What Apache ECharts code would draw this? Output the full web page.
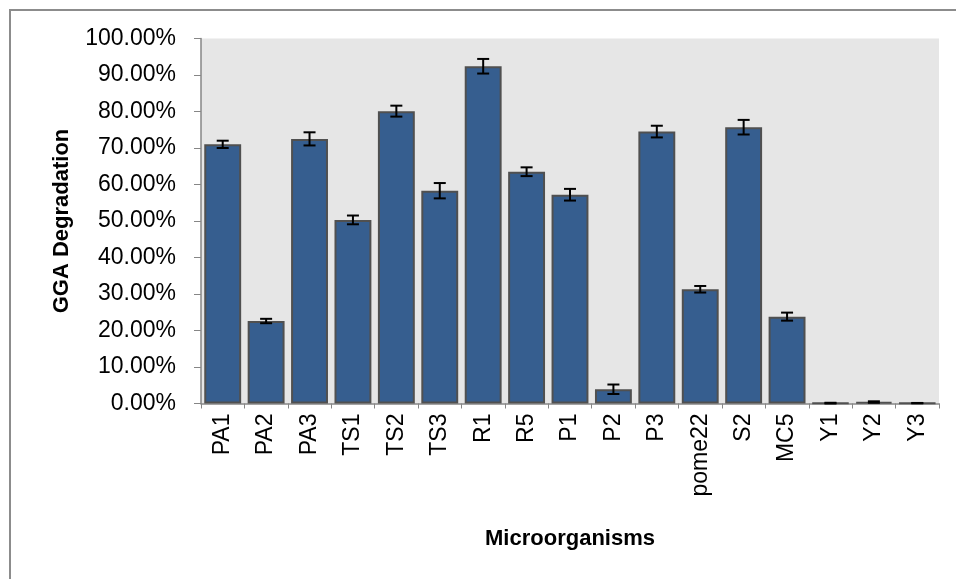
<!DOCTYPE html>
<html>
<head>
<meta charset="utf-8">
<script src="https://cdn.jsdelivr.net/npm/echarts@6/dist/echarts.min.js"></script>
<style>html,body{margin:0;padding:0;background:#fff}#c{width:956px;height:579px}</style>
</head>
<body>
<div id="c"></div>
<script>
var categories = ['PA1','PA2','PA3','TS1','TS2','TS3','R1','R5','P1','P2','P3','pome22','S2','MC5','Y1','Y2','Y3'];
var degradation = [71.0, 22.6, 72.5, 50.3, 80.1, 58.3, 92.4, 63.5, 57.2, 3.9, 74.5, 31.3, 75.7, 23.8, 0.1, 0.4, 0.1];
var errors = [1.0, 0.6, 1.8, 1.2, 1.5, 2.1, 2.0, 1.2, 1.6, 1.3, 1.6, 0.9, 2.0, 1.1, 0.1, 0.2, 0.05];
var yTicks = [0, 10, 20, 30, 40, 50, 60, 70, 80, 90, 100];

var errData = categories.map(function (c, i) {
  return [i, degradation[i] - errors[i], degradation[i] + errors[i]];
});

var chart = echarts.init(document.getElementById('c'), null, {renderer: 'canvas'});
var font = 'Liberation Sans';
chart.setOption({
  animation: false,
  graphic: [{
    type: 'rect', left: 9, top: 9, z: -10,
    shape: {x: 0, y: 0, width: 960, height: 580},
    style: {fill: '#fff', stroke: '#8c8c8c', lineWidth: 2}
  }],
  grid: {
    left: 201, right: 17, top: 38.5, bottom: 175.5,
    show: true, backgroundColor: '#e6e6e6', borderWidth: 0
  },
  xAxis: {
    type: 'category',
    data: categories,
    name: 'Microorganisms',
    nameLocation: 'middle',
    nameGap: 124,
    nameTextStyle: {fontFamily: font, fontWeight: 'bold', fontSize: 22, color: '#000'},
    axisLine: {lineStyle: {color: '#868686', width: 1.5}},
    axisTick: {show: true, length: 5, lineStyle: {color: '#868686'}},
    axisLabel: {rotate: 90, fontFamily: font, fontSize: 23, color: '#000', margin: 10, interval: 0}
  },
  yAxis: {
    type: 'value',
    min: yTicks[0], max: yTicks[yTicks.length - 1], interval: 10,
    name: 'GGA Degradation',
    nameLocation: 'middle',
    nameGap: 128,
    nameRotate: 90,
    nameTextStyle: {fontFamily: font, fontWeight: 'bold', fontSize: 22, color: '#000'},
    axisLine: {show: true, lineStyle: {color: '#868686', width: 1.5}},
    axisTick: {show: true, inside: false, length: 7, lineStyle: {color: '#868686'}},
    splitLine: {show: false},
    axisLabel: {
      fontFamily: font, fontSize: 23, color: '#000', margin: 25,
      formatter: function (v) { return v.toFixed(2) + '%'; }
    }
  },
  series: [{
    type: 'bar',
    data: degradation,
    barCategoryGap: '15%',
    itemStyle: {color: '#365e8f', borderColor: '#505050', borderWidth: 2},
    z: 2
  }, {
    type: 'custom',
    data: errData,
    z: 5,
    renderItem: function (params, api) {
      var x = api.value(0);
      var lo = api.coord([x, api.value(1)]);
      var hi = api.coord([x, api.value(2)]);
      var hw = 6;
      var st = {stroke: '#000', lineWidth: 2};
      return {
        type: 'group',
        children: [
          {type: 'line', shape: {x1: lo[0], y1: lo[1], x2: hi[0], y2: hi[1]}, style: st},
          {type: 'line', shape: {x1: lo[0] - hw, y1: lo[1], x2: lo[0] + hw, y2: lo[1]}, style: st},
          {type: 'line', shape: {x1: hi[0] - hw, y1: hi[1], x2: hi[0] + hw, y2: hi[1]}, style: st}
        ]
      };
    }
  }]
});
</script>
</body>
</html>
